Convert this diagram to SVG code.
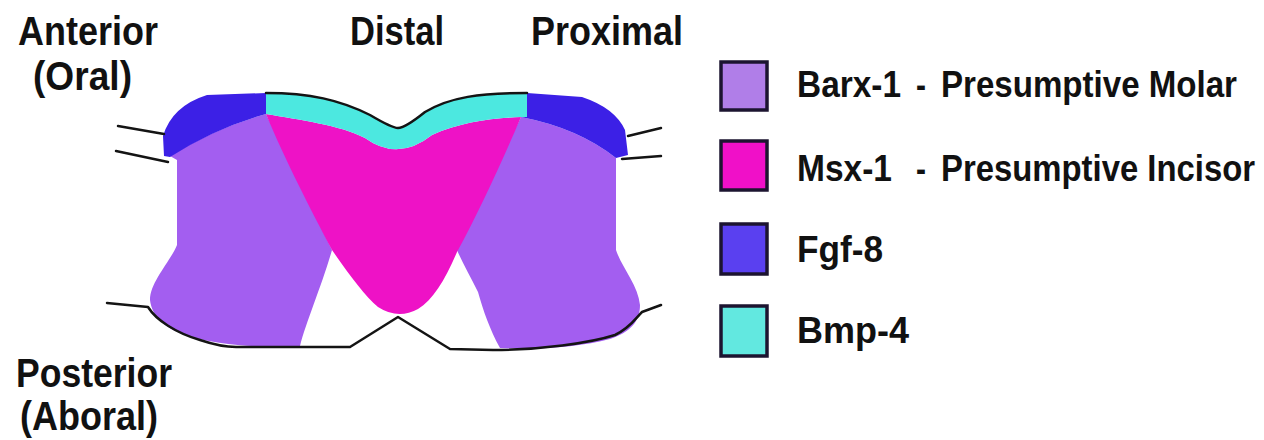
<svg xmlns="http://www.w3.org/2000/svg" width="1264" height="440" viewBox="0 0 1264 440">
  <style>
    .lbl { font-family: "Liberation Sans", Arial, sans-serif; font-weight: bold; font-size: 36px; fill: #111; }
    .leg { font-family: "Liberation Sans", Arial, sans-serif; font-weight: bold; font-size: 33px; fill: #111; }
    .barx { fill: #a35ef0; }
    .msx { fill: #ee12c6; }
    .fgf { fill: #3c20e6; }
    .bmp { fill: #4ce8e0; }
    .edge { fill: none; stroke: #141414; stroke-width: 2.5; stroke-linejoin: round; stroke-linecap: round; }
    .box { stroke: #1c1430; stroke-width: 3.5; }
  </style>
  <rect width="1264" height="440" fill="#fff"/>

  <!-- orientation labels (tall, slightly narrow lettering) -->
  <g id="label-anterior">
    <g transform="translate(18,45) scale(1,1.12)"><text class="lbl" textLength="140" lengthAdjust="spacingAndGlyphs">Anterior</text></g>
    <g transform="translate(33,90) scale(1,1.12)"><text class="lbl" textLength="99" lengthAdjust="spacingAndGlyphs">(Oral)</text></g>
  </g>
  <g id="label-distal">
    <g transform="translate(350,45) scale(1,1.12)"><text class="lbl" textLength="94" lengthAdjust="spacingAndGlyphs">Distal</text></g>
  </g>
  <g id="label-proximal">
    <g transform="translate(531,45) scale(1,1.12)"><text class="lbl" textLength="152" lengthAdjust="spacingAndGlyphs">Proximal</text></g>
  </g>
  <g id="label-posterior">
    <g transform="translate(16,387) scale(1,1.12)"><text class="lbl" textLength="156" lengthAdjust="spacingAndGlyphs">Posterior</text></g>
    <g transform="translate(20,430) scale(1,1.12)"><text class="lbl" textLength="138" lengthAdjust="spacingAndGlyphs">(Aboral)</text></g>
  </g>

  <!-- Barx-1 domains (molar field) -->
  <g id="barx-left">
    <path class="barx" d="M170,156 Q215,128 266,114 L332,250 C322,285 306,322 300,346 L286,347 C255,347 215,345 185,335 C163,327 152,316 150,300 C150,282 170,262 177,245 L177,160 Z"/>
  </g>
  <g id="barx-right">
    <path class="barx" d="M521,117 Q578,128 616,158 L616,250 C622,268 638,285 640,305 C640,322 630,332 610,339 C580,347 540,350 500,348 C490,330 483,310 478,292 C470,276 462,262 457,250 Z"/>
  </g>

  <!-- Msx-1 domain (incisor field) -->
  <g id="msx">
    <path class="msx" d="M266,114 C300,120 340,125 365,138 Q398,162 432,135 C460,122 495,118 521,117 C505,155 480,210 457,252 C445,280 433,300 418,309 Q398,320 378,307 C365,296 350,276 332,250 C312,212 285,160 266,114 Z"/>
  </g>

  <!-- Fgf-8 bands -->
  <g id="fgf-left">
    <path class="fgf" d="M164,156 L163,136 Q172,106 207,95 L266,93 L266,114 Q215,128 170,157 Z"/>
  </g>
  <g id="fgf-right">
    <path class="fgf" d="M527,93 L582,97 Q615,108 625,130 L628,155 L616,158 Q578,128 521,117 L527,117 Z"/>
  </g>

  <!-- Bmp-4 band -->
  <g id="bmp">
    <path class="bmp" d="M266,93 C310,93 340,100 370,115 Q392,128 398,128 Q405,128 425,112 C450,97 480,93 527,93 L527,117 L521,117 C495,118 460,122 432,135 Q398,162 365,138 C340,125 300,120 266,114 Z"/>
  </g>

  <!-- epithelial outlines -->
  <g id="connectors">
    <path class="edge" d="M266,93 C310,93 340,100 370,115 Q392,128 398,128 Q405,128 425,112 C450,97 480,93 527,93"/>
    <path class="edge" d="M118,126 L164,134"/>
    <path class="edge" d="M116,151 L168,162"/>
    <path class="edge" d="M628,136 L661,128"/>
    <path class="edge" d="M622,159 L661,156"/>
    <path class="edge" d="M107,303 L148,307 C156,320 176,333 200,340 C215,345 225,347 236,347 L350,347 L398,317 L450,349 L493,350 C540,350 590,343 615,335 C630,328 636,318 642,312 L661,305"/>
  </g>

  <!-- legend -->
  <g id="legend-barx">
    <rect class="box" x="721" y="62" width="46" height="48" style="fill:#b07ee8"/>
    <g transform="translate(797,97) scale(1,1.14)"><text class="leg" textLength="104" lengthAdjust="spacingAndGlyphs">Barx-1</text></g>
    <g transform="translate(916,97) scale(1,1.14)"><text class="leg" textLength="10" lengthAdjust="spacingAndGlyphs">-</text></g>
    <g transform="translate(941,97) scale(1,1.14)"><text class="leg" textLength="296" lengthAdjust="spacingAndGlyphs">Presumptive Molar</text></g>
  </g>
  <g id="legend-msx">
    <rect class="box" x="721" y="141" width="46" height="49" style="fill:#f010c8"/>
    <g transform="translate(797,181) scale(1,1.14)"><text class="leg" textLength="95" lengthAdjust="spacingAndGlyphs">Msx-1</text></g>
    <g transform="translate(916,181) scale(1,1.14)"><text class="leg" textLength="10" lengthAdjust="spacingAndGlyphs">-</text></g>
    <g transform="translate(941,181) scale(1,1.14)"><text class="leg" textLength="314" lengthAdjust="spacingAndGlyphs">Presumptive Incisor</text></g>
  </g>
  <g id="legend-fgf">
    <rect class="box" x="721" y="224" width="46" height="50" style="fill:#5a40f0"/>
    <g transform="translate(797,262) scale(1,1.14)"><text class="leg" textLength="86" lengthAdjust="spacingAndGlyphs">Fgf-8</text></g>
  </g>
  <g id="legend-bmp">
    <rect class="box" x="721" y="306" width="46" height="50" style="fill:#62e8e0"/>
    <g transform="translate(797,343) scale(1,1.14)"><text class="leg" textLength="112" lengthAdjust="spacingAndGlyphs">Bmp-4</text></g>
  </g>
</svg>
